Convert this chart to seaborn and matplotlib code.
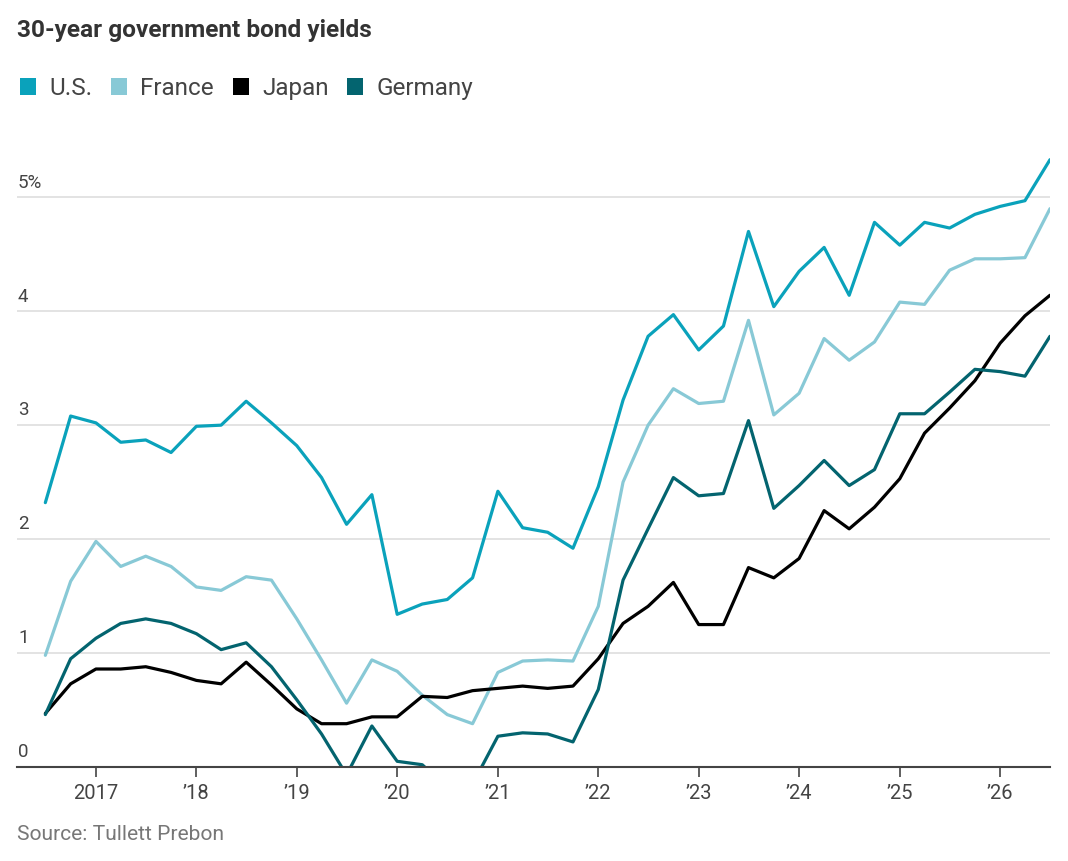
import pandas as pd
import matplotlib.pyplot as plt
from matplotlib.patches import Patch
import seaborn as sns

# quarterly observations, Jul 2016 .. Jul 2026
quarters = pd.date_range("2016-07-01", "2026-07-01", freq="QS")

us = [2.32, 3.08, 3.02, 2.85, 2.87, 2.76, 2.99, 3.00, 3.21, 3.02,
      2.82, 2.54, 2.13, 2.39, 1.34, 1.43, 1.47, 1.66, 2.42, 2.10,
      2.06, 1.92, 2.46, 3.22, 3.78, 3.97, 3.66, 3.87, 4.70, 4.04,
      4.35, 4.56, 4.14, 4.78, 4.58, 4.78, 4.73, 4.85, 4.92, 4.97, 5.33]
france = [0.98, 1.63, 1.98, 1.76, 1.85, 1.76, 1.58, 1.55, 1.67, 1.64,
          1.30, 0.94, 0.56, 0.94, 0.84, 0.63, 0.46, 0.38, 0.83, 0.93,
          0.94, 0.93, 1.41, 2.50, 3.00, 3.32, 3.19, 3.21, 3.92, 3.09,
          3.28, 3.76, 3.57, 3.73, 4.08, 4.06, 4.36, 4.46, 4.46, 4.47, 4.90]
japan = [0.47, 0.73, 0.86, 0.86, 0.88, 0.83, 0.76, 0.73, 0.92, 0.72,
         0.51, 0.38, 0.38, 0.44, 0.44, 0.62, 0.61, 0.67, 0.69, 0.71,
         0.69, 0.71, 0.95, 1.26, 1.41, 1.62, 1.25, 1.25, 1.75, 1.66,
         1.83, 2.25, 2.09, 2.28, 2.53, 2.93, 3.15, 3.39, 3.72, 3.96, 4.14]
germany = [0.46, 0.95, 1.13, 1.26, 1.30, 1.26, 1.17, 1.03, 1.09, 0.88,
           0.59, 0.29, -0.07, 0.36, 0.05, 0.02, -0.18, -0.15, 0.27, 0.30,
           0.29, 0.22, 0.68, 1.64, 2.09, 2.54, 2.38, 2.40, 3.04, 2.27,
           2.47, 2.69, 2.47, 2.61, 3.10, 3.10, 3.29, 3.49, 3.47, 3.43, 3.78]

countries = ["U.S.", "France", "Japan", "Germany"]
colors = {"U.S.": "#0aa2bb", "France": "#88c9d6", "Japan": "#000000", "Germany": "#03646f"}

y_ticks = [0, 1, 2, 3, 4, 5]
y_labels = ["0", "1", "2", "3", "4", "5%"]
x_years = list(range(2017, 2027))
x_labels = ["2017", "\u201918", "\u201919", "\u201920", "\u201921",
            "\u201922", "\u201923", "\u201924", "\u201925", "\u201926"]

df = pd.DataFrame({"date": list(quarters) * 4,
                   "yield": us + france + japan + germany,
                   "country": [c for c in countries for _ in quarters]})

sns.set_style("white")
plt.rcParams["font.family"] = ["Roboto", "DejaVu Sans"]

fig = plt.figure(figsize=(10.68, 8.61), dpi=100)
ax = fig.add_axes([17 / 1068, 1 - 767 / 861, (1050 - 17) / 1068, (767 - 146) / 861])

sns.lineplot(data=df, x="date", y="yield", hue="country", hue_order=countries,
             palette=colors, linewidth=2.3, legend=False, ax=ax, zorder=3)

ax.set_xlim(pd.Timestamp("2016-03-20"), pd.Timestamp("2026-07-01"))
ax.set_ylim(0, 5.45)

for t in y_ticks[1:]:
    ax.axhline(t, color="#dedede", linewidth=1.2, zorder=1)
for t, lab in zip(y_ticks, y_labels):
    ax.text(0.001, t + 0.05, lab, transform=ax.get_yaxis_transform(),
            ha="left", va="bottom", fontsize=13.5, color="#444444")
ax.set_yticks([])

ax.set_xticks([pd.Timestamp(f"{y}-01-01") for y in x_years])
ax.set_xticklabels(x_labels, fontsize=14.5, color="#444444")
ax.tick_params(axis="x", length=7, width=1.2, color="#444444", pad=5, direction="out")
ax.xaxis.set_tick_params(bottom=True)

for side in ["top", "right", "left"]:
    ax.spines[side].set_visible(False)
ax.spines["bottom"].set_color("#444444")
ax.spines["bottom"].set_linewidth(1.5)
ax.spines["bottom"].set_zorder(4)
ax.set_xlabel("")
ax.set_ylabel("")

fig.text(17 / 1068, 1 - 31 / 861, "30-year government bond yields",
         fontsize=17.6, fontweight="bold", color="#333333", va="center", ha="left")

handles = [Patch(facecolor=colors[c], edgecolor="none") for c in countries]
fig.legend(handles, countries, loc="center left", bbox_to_anchor=(20 / 1068, 1 - 88.5 / 861),
           ncol=4, frameon=False, fontsize=17.5, handlelength=0.66, handleheight=0.66,
           handletextpad=0.55, columnspacing=0.76, borderpad=0, borderaxespad=0,
           labelcolor="#444444")

fig.text(17 / 1068, 1 - 835 / 861, "Source: Tullett Prebon",
         fontsize=15.1, color="#777777", va="center", ha="left")

fig.savefig("out.png", dpi=100)
